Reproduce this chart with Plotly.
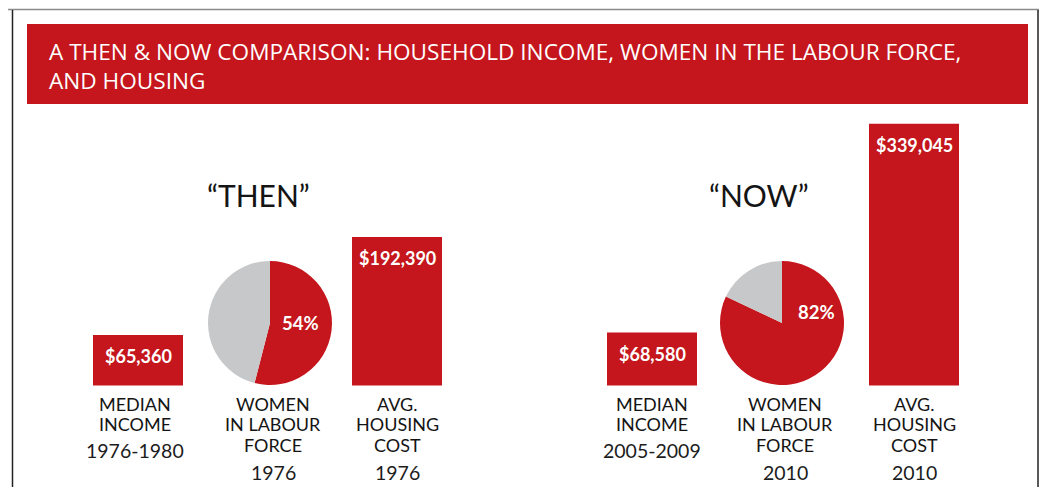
import plotly.graph_objects as go

# ---------------- data ----------------
panel_titles = ["\u201cTHEN\u201d", "\u201cNOW\u201d"]
income_values = [65360, 68580]
housing_values = [192390, 339045]
women_pct = [54, 82]
income_years = ["1976-1980", "2005-2009"]
women_years = ["1976", "2010"]
housing_years = ["1976", "2010"]
category_labels = [["MEDIAN", "INCOME"], ["WOMEN", "IN LABOUR", "FORCE"], ["AVG.", "HOUSING", "COST"]]
chart_title = "A THEN & NOW COMPARISON: HOUSEHOLD INCOME, WOMEN IN THE LABOUR FORCE,<br>AND HOUSING"

# ---------------- layout constants (reference pixel space) ----------------
PAGE_W, PAGE_H = 1047, 495
OFF = 8                      # default page margin around the plot div
FW, FH = PAGE_W - 2 * OFF, PAGE_H - 2 * OFF
RED = "#C4161C"
GRAY = "#C7C8CA"
TXT = "#141414"
BASE_PX = 385.5              # pixel row of the $0 baseline
PX_PER_DOLLAR = 148.5 / 192390
BAR_W = 90
income_x = [138, 652]
pie_x = [270, 782]
housing_x = [397, 914]
pie_cy = 323
pie_r = 62
heading_x = [258, 759]
FONT = "Lato"


def px(x):
    return (x - OFF) / FW


def py(y):
    return 1 - (y - OFF) / FH


fig = go.Figure()

# bars
fig.add_trace(go.Bar(x=income_x, y=income_values, width=BAR_W,
                     marker=dict(color=RED, line=dict(width=0)), hoverinfo="skip"))
fig.add_trace(go.Bar(x=housing_x, y=housing_values, width=BAR_W,
                     marker=dict(color=RED, line=dict(width=0)), hoverinfo="skip"))

# pies
for i, pct in enumerate(women_pct):
    cx = pie_x[i]
    fig.add_trace(go.Pie(
        values=[pct, 100 - pct], sort=False, direction="clockwise", rotation=0,
        marker=dict(colors=[RED, GRAY], line=dict(width=0)),
        textinfo="none", hoverinfo="skip", showlegend=False,
        domain=dict(x=[px(cx - pie_r), px(cx + pie_r)],
                    y=[py(pie_cy + pie_r), py(pie_cy - pie_r)])))

annotations = []


def ann(x, y, text, font, xanchor="center", yanchor="middle", **kw):
    annotations.append(dict(x=px(x), y=py(y), xref="paper", yref="paper",
                            xanchor=xanchor, yanchor=yanchor, showarrow=False,
                            text=text, font=font, **kw))


# bar value labels
for xs, vals in ((income_x, income_values), (housing_x, housing_values)):
    for x, v in zip(xs, vals):
        annotations.append(dict(x=x, y=v, xref="x", yref="y", xanchor="center",
                                yanchor="top", yshift=-8, showarrow=False,
                                text=f"<b>${v:,}</b>",
                                font=dict(family=FONT, size=18, color="white")))
# pie labels
pie_shift = [(30, 0), (34, -11)]
for i, pct in enumerate(women_pct):
    ann(pie_x[i] + pie_shift[i][0], pie_cy + pie_shift[i][1], f"<b>{pct}%</b>",
        dict(family=FONT, size=18.5, color="white"))
# headings
for i, t in enumerate(panel_titles):
    ann(heading_x[i], 195, t, dict(family=FONT, size=30, color=TXT))
# category labels + years
label_x = [[135, 273, 397], [652, 785, 914]]
years = [[income_years[i], women_years[i], housing_years[i]] for i in range(2)]
line_y = [404, 424, 445]
year_y = [450, 472, 472]
for p in range(2):
    for c in range(3):
        for k, line in enumerate(category_labels[c]):
            ann(label_x[p][c], line_y[k], line, dict(family=FONT, size=18, color=TXT))
        ann(label_x[p][c], year_y[c], years[p][c],
            dict(family=FONT, size=19.5, color="#1c1c1c"))
# title
ann(47, 65.5, chart_title, dict(family="Open Sans", size=22.6, color="white"),
    xanchor="left", align="left")

RIGHT_EDGE = min(1042.5, PAGE_W - OFF - 1)
shapes = [
    dict(type="rect", xref="paper", yref="paper", x0=px(27), x1=px(1028), y0=py(104), y1=py(24),
         fillcolor=RED, line=dict(width=0), layer="below"),
    dict(type="line", xref="paper", yref="paper", x0=0, x1=1, y0=py(9.5), y1=py(9.5),
         line=dict(color="#8a8a8a", width=1.5)),
    dict(type="line", xref="paper", yref="paper", x0=px(12.5), x1=px(12.5), y0=py(10), y1=0,
         line=dict(color="#222222", width=1.5)),
    dict(type="line", xref="paper", yref="paper", x0=px(RIGHT_EDGE), x1=px(RIGHT_EDGE),
         y0=py(10), y1=0, line=dict(color="#222222", width=1.5)),
]

fig.update_layout(
    width=FW, height=FH, margin=dict(l=0, r=0, t=0, b=0),
    paper_bgcolor="white", plot_bgcolor="white",
    showlegend=False, barmode="overlay",
    xaxis=dict(range=[OFF, PAGE_W - OFF], visible=False, fixedrange=True),
    yaxis=dict(range=[-(PAGE_H - OFF - BASE_PX) / PX_PER_DOLLAR, (BASE_PX - OFF) / PX_PER_DOLLAR],
               visible=False, fixedrange=True),
    annotations=annotations, shapes=shapes,
)

fig.write_html("out.html")
